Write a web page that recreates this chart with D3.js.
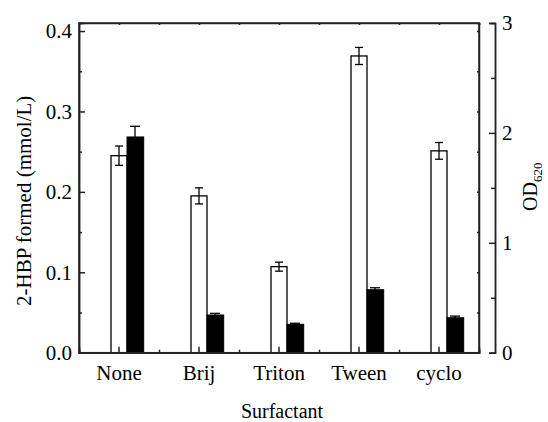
<!DOCTYPE html>
<html>
<head>
<meta charset="utf-8">
<script src="https://cdn.jsdelivr.net/npm/d3@7"></script>
<style>
  html, body { margin: 0; padding: 0; background: #fff; }
  svg { display: block; }
</style>
</head>
<body>
<svg id="chart" width="548" height="422"></svg>
<script>
// Surfactant categories
const categories = ["None", "Brij", "Triton", "Tween", "cyclo"];
// 2-HBP formed (mmol/L), left axis, white bars
const hbpValues = [0.245, 0.195, 0.107, 0.369, 0.251];
const hbpErrors = [0.012, 0.010, 0.0056, 0.0106, 0.0104];
// OD620, right axis, black bars
const odValues = [1.963, 0.343, 0.258, 0.573, 0.318];
const odErrors = [0.097, 0.015, 0.010, 0.018, 0.015];
// tick values
const leftTicks = [0.0, 0.1, 0.2, 0.3, 0.4];
const leftMinorTicks = [0.05, 0.15, 0.25, 0.35];
const rightTicks = [0, 1, 2, 3];
const rightMinorTicks = [0.5, 1.5, 2.5];

const serif = "'Liberation Serif', 'Times New Roman', Tinos, Times, 'DejaVu Serif', serif";
const svg = d3.select("#chart");
const plot = { left: 79, right: 479, top: 23, bottom: 352.7 };
const rightAxisX = 495;
const fontSize = 21;
const stroke = "#222";

const x = d3.scaleBand().domain(categories).range([plot.left, plot.right]).padding(0);
const yL = d3.scaleLinear().domain([0, 0.41]).range([plot.bottom, plot.top]);
const yR = d3.scaleLinear().domain([0, 3]).range([plot.bottom, plot.top]);
const barW = 16;
const cx = c => x(c) + x.bandwidth() / 2;

// --- bars ---
const g = svg.append("g");
g.selectAll("rect.hbp").data(categories).join("rect")
  .attr("class", "hbp")
  .attr("x", c => cx(c) - barW / 2)
  .attr("y", (c, i) => yL(hbpValues[i]))
  .attr("width", barW)
  .attr("height", (c, i) => yL(0) - yL(hbpValues[i]))
  .attr("fill", "#fff").attr("stroke", "#000").attr("stroke-width", 1.3);

g.selectAll("rect.od").data(categories).join("rect")
  .attr("class", "od")
  .attr("x", c => cx(c) + barW / 2)
  .attr("y", (c, i) => yR(odValues[i]))
  .attr("width", barW + 0.7)
  .attr("height", (c, i) => yR(0) - yR(odValues[i]))
  .attr("fill", "#000").attr("stroke", "#000").attr("stroke-width", 1);

// --- error bars ---
function errorBars(cls, values, errors, scale, centerOf, capW) {
  const eg = g.selectAll("g." + cls).data(categories).join("g").attr("class", cls)
    .attr("stroke", "#000").attr("stroke-width", 1.3);
  eg.append("line")
    .attr("x1", centerOf).attr("x2", centerOf)
    .attr("y1", (c, i) => scale(values[i] + errors[i]))
    .attr("y2", (c, i) => scale(values[i] - errors[i]));
  eg.append("line")
    .attr("x1", c => centerOf(c) - capW / 2).attr("x2", c => centerOf(c) + capW / 2)
    .attr("y1", (c, i) => scale(values[i] + errors[i]))
    .attr("y2", (c, i) => scale(values[i] + errors[i]));
  eg.append("line")
    .attr("x1", c => centerOf(c) - capW / 2).attr("x2", c => centerOf(c) + capW / 2)
    .attr("y1", (c, i) => scale(values[i] - errors[i]))
    .attr("y2", (c, i) => scale(values[i] - errors[i]));
}
errorBars("err-hbp", hbpValues, hbpErrors, yL, c => cx(c), 8);
errorBars("err-od", odValues, odErrors, yR, c => cx(c) + barW, 10);

// --- frame ---
const frame = svg.append("g").attr("stroke", stroke).attr("stroke-width", 1.5).attr("fill", "none");
frame.append("rect")
  .attr("x", plot.left).attr("y", plot.top)
  .attr("width", plot.right - plot.left).attr("height", plot.bottom - plot.top);

// left axis (ticks pointing inward)
const leftAxis = d3.axisLeft(yL).tickValues(leftTicks).tickSize(-6).tickPadding(7)
  .tickFormat(d3.format(".1f"));
svg.append("g").attr("transform", `translate(${plot.left},0)`).call(leftAxis);
const leftMinor = d3.axisLeft(yL).tickValues(leftMinorTicks).tickSize(-3).tickFormat("");
svg.append("g").attr("transform", `translate(${plot.left},0)`).call(leftMinor);

// mirrored small ticks on the right edge of the frame
const mirror = d3.axisRight(yL).tickValues(leftTicks.concat(leftMinorTicks)).tickSize(-2).tickFormat("");
svg.append("g").attr("transform", `translate(${plot.right},0)`).call(mirror);

// bottom axis: category ticks and band boundary ticks
const bottomAxis = d3.axisBottom(x).tickSize(-6).tickPadding(12);
svg.append("g").attr("transform", `translate(0,${plot.bottom})`).call(bottomAxis);
const bounds = categories.map(c => x(c)).concat([plot.right]);
const bScale = d3.scaleLinear().domain([plot.left, plot.right]).range([plot.left, plot.right]);
svg.append("g").attr("transform", `translate(0,${plot.bottom})`)
  .call(d3.axisBottom(bScale).tickValues(bounds).tickSize(-3).tickFormat(""));

// top edge small ticks
svg.append("g").attr("transform", `translate(0,${plot.top})`)
  .call(d3.axisTop(bScale).tickValues(bounds.concat(categories.map(cx))).tickSize(-2).tickFormat(""));

// right axis (OD620)
const rightAxis = d3.axisRight(yR).tickValues(rightTicks).tickSize(-6).tickPadding(7)
  .tickFormat(d3.format("d"));
svg.append("g").attr("transform", `translate(${rightAxisX},0)`).call(rightAxis);
svg.append("g").attr("transform", `translate(${rightAxisX},0)`)
  .call(d3.axisRight(yR).tickValues(rightMinorTicks).tickSize(-4).tickFormat(""));

// shared axis styling
svg.selectAll(".domain").attr("stroke", stroke).attr("stroke-width", 1.5);
svg.selectAll(".tick line").attr("stroke", stroke).attr("stroke-width", 1.5);
svg.selectAll(".tick text")
  .style("font-family", serif)
  .style("font-size", fontSize + "px").attr("fill", "#000");

// axis titles
svg.append("text")
  .attr("transform", `translate(31,${(plot.top + plot.bottom) / 2 + 13}) rotate(-90)`)
  .attr("text-anchor", "middle")
  .style("font-family", serif).style("font-size", fontSize + "px")
  .text("2-HBP formed (mmol/L)");

const od = svg.append("text")
  .attr("transform", `translate(537,211) rotate(-90)`)
  .attr("text-anchor", "start")
  .style("font-family", serif).style("font-size", "20px");
od.append("tspan").text("OD");
od.append("tspan").style("font-size", "13px").attr("dy", 5).text("620");

svg.append("text")
  .attr("x", 282).attr("y", 418)
  .attr("text-anchor", "middle")
  .style("font-family", serif).style("font-size", "20px")
  .text("Surfactant");
</script>
</body>
</html>
